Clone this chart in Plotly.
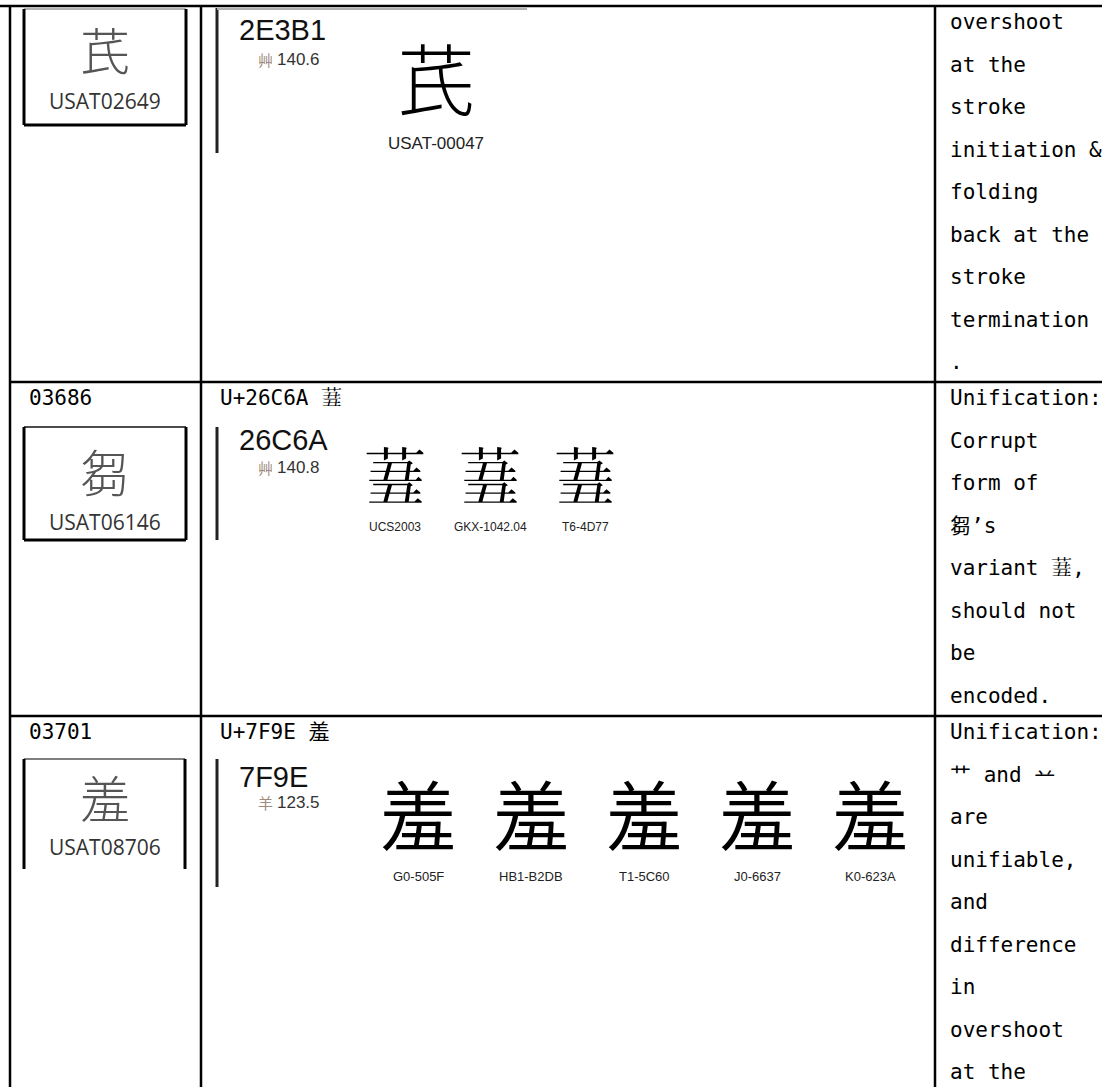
import plotly.graph_objects as go

W, H = 1102, 1087

# ---------------- data ----------------
row_ids = ["", "03686", "03701"]
row_headings = ["", "U+26C6A \U00026C6A", "U+7F9E 羞"]
usat_ids = ["USAT02649", "USAT06146", "USAT08706"]
usat_glyphs = ["芪", "芻", "羞"]
code_points = ["2E3B1", "26C6A", "7F9E"]
radicals = ["艸", "艸", "羊"]
radical_strokes = ["140.6", "140.8", "123.5"]
source_glyphs = ["芪", "\U00026C6A", "羞"]
source_labels = [
    ["USAT-00047"],
    ["UCS2003", "GKX-1042.04", "T6-4D77"],
    ["G0-505F", "HB1-B2DB", "T1-5C60", "J0-6637", "K0-623A"],
]
notes = [
    ["overshoot", "at the", "stroke", "initiation &", "folding",
     "back at the", "stroke", "termination", "."],
    ["Unification:", "Corrupt", "form of", "芻’s", "variant \U00026C6A,",
     "should not", "be", "encoded."],
    ["Unification:", "艹 and 䒑", "are", "unifiable,", "and", "difference",
     "in", "overshoot", "at the"],
]

# ---------------- layout (pixel grid) ----------------
col_x = [10, 201, 935, W]
row_y = [6, 382, 716, H]
line_h = 42.5
text_off = 16

# per-row inner layout
box = [  # left, right, top, bottom, has_bottom, top_color
    (24, 186, 9, 125, True, "#9a9a9a"),
    (24, 186, 427, 540, True, "#111"),
    (24, 185, 759, 869, False, "#555"),
]
box_glyph_y = [48, 470, 796]
box_label_y = [101, 522, 847]
panel_x = 217
panel = [(8, 153), (427, 540), (759, 887)]
code_y = [30, 440, 777]
rad_y = [59, 467, 802]
glyph_x0 = [436, 395, 418]
glyph_step = [0, 95, 113]
glyph_y = [76, 473, 812]
glyph_size = [78, 62, 76]
glyph_weight = [300, 350, 350]
glabel_y = [143, 527, 876]
glabel_size = [17, 12, 13]

MONO = "DejaVu Sans Mono, Noto Sans CJK JP"
CJK = "Noto Sans CJK JP"
SANS = "Liberation Sans, Arial"

fig = go.Figure()
shapes = []
ann = []


def line(x0, y0, x1, y1, color="#000", width=2.5):
    shapes.append(dict(type="line", xref="x", yref="y", x0=x0, y0=y0, x1=x1, y1=y1,
                       line=dict(color=color, width=width)))


def text(x, y, s, size, family, color="#000", xanchor="left", weight=None):
    font = dict(size=size, family=family, color=color)
    if weight is not None:
        font["weight"] = weight
    ann.append(dict(x=x, y=y, xref="x", yref="y", text=s, showarrow=False,
                    xanchor=xanchor, yanchor="middle", font=font))


# table grid
line(0, row_y[0], W, row_y[0])
for cx in col_x[:3]:
    line(cx, row_y[0], cx, H)
for ry in row_y[1:3]:
    line(col_x[0], ry, W, ry)

for r in range(3):
    top = row_y[r]
    # ids and headings
    if row_ids[r]:
        text(col_x[0] + 17, top + text_off, row_ids[r], 21, MONO)
    if row_headings[r]:
        text(col_x[1] + 17, top + text_off, row_headings[r], 21, MONO)
    # USAT box
    bl, br, bt, bb, has_bottom, tcol = box[r]
    line(bl, bt, br, bt, color=tcol, width=1.5)
    line(bl, bt, bl, bb, width=3)
    line(br, bt, br, bb, width=3)
    if has_bottom:
        line(bl, bb, br, bb, width=3)
    text((bl + br) / 2, box_glyph_y[r], usat_glyphs[r], 50, CJK, "#555", "center", 300)
    text((bl + br) / 2, box_label_y[r], usat_ids[r], 21, "Open Sans", "#333", "center")
    # source panel
    pt, pb = panel[r]
    line(panel_x, pt, panel_x, pb, color="#222", width=3)
    if r == 0:
        line(panel_x, pt + 1, 527, pt + 1, color="#b0b0b0", width=2)
    text(panel_x + 20, code_y[r], code_points[r], 29, SANS, "#111")
    text(panel_x + 39, rad_y[r], radicals[r], 15, CJK, "#a08a80")
    text(panel_x + 58, rad_y[r], radical_strokes[r], 17, SANS, "#333")
    for i, lab in enumerate(source_labels[r]):
        gx = glyph_x0[r] + i * glyph_step[r]
        text(gx, glyph_y[r], source_glyphs[r], glyph_size[r], CJK, "#000", "center",
             glyph_weight[r])
        text(gx, glabel_y[r], lab, glabel_size[r], SANS, "#222", "center")
    # notes
    for j, s in enumerate(notes[r]):
        text(col_x[2] + 13, top + text_off + j * line_h, s, 21, MONO)

fig.update_layout(
    width=W, height=H, margin=dict(l=0, r=0, t=0, b=0),
    paper_bgcolor="white", plot_bgcolor="white",
    xaxis=dict(range=[0, W], visible=False, fixedrange=True),
    yaxis=dict(range=[H, 0], visible=False, fixedrange=True),
    shapes=shapes, annotations=ann, showlegend=False,
)

fig.write_html("out.html", config={"displayModeBar": False},
               post_script="document.body.style.margin='0';")
